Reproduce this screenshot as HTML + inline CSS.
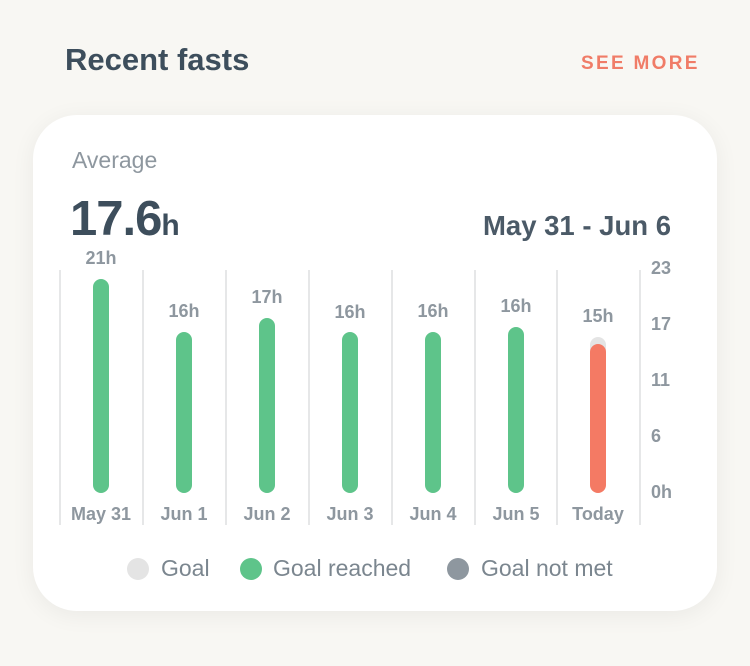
<!DOCTYPE html>
<html><head><style>
body{margin:0;width:750px;height:666px;background:#f8f7f3;font-family:"Liberation Sans",sans-serif;position:relative;overflow:hidden}
.t{position:absolute;white-space:nowrap}
.card{position:absolute;left:33px;top:115px;width:684px;height:496px;background:#fff;border-radius:44px;box-shadow:0 4px 24px rgba(0,0,0,0.06)}
.g{position:absolute;top:270px;width:2px;height:255px;background:#e6e7e8}
.b{position:absolute;width:16px;border-radius:8px;background:#5ec48a}
.v{position:absolute;width:60px;text-align:center;font-size:18px;font-weight:bold;color:#8e979f}
.d{position:absolute;width:80px;text-align:center;font-size:18px;font-weight:bold;color:#8e979f;top:504px}
.y{position:absolute;left:651px;font-size:18px;font-weight:bold;color:#8e979f}
.dot{position:absolute;width:22px;height:22px;border-radius:11px;top:558px}
.l{position:absolute;top:555px;font-size:23px;color:#7b868f}
</style></head><body>
<div class="t" style="left:65px;top:42px;font-size:31px;font-weight:bold;color:#3d4e5c">Recent fasts</div>
<div class="t" style="left:581px;top:53px;font-size:19px;font-weight:bold;color:#f07c67;letter-spacing:2.3px">SEE MORE</div>
<div class="card"></div>
<div class="t" style="left:72px;top:147px;font-size:23px;color:#8e979f">Average</div>
<div class="t" style="left:70px;top:191px;font-size:49px;font-weight:bold;color:#3d4e5c;letter-spacing:-1px">17.6<span style="font-size:30px;letter-spacing:0">h</span></div>
<div class="t" style="left:483px;top:210px;font-size:27.5px;font-weight:bold;color:#4b5a67">May 31 - Jun 6</div>
<div class="g" style="left:59px"></div><div class="g" style="left:142px"></div><div class="g" style="left:225px"></div><div class="g" style="left:308px"></div><div class="g" style="left:391px"></div><div class="g" style="left:474px"></div><div class="g" style="left:556px"></div><div class="g" style="left:639px"></div>
<div class="b" style="left:93px;top:279px;height:214px"></div>
<div class="b" style="left:176px;top:332px;height:161px"></div>
<div class="b" style="left:259px;top:318px;height:175px"></div>
<div class="b" style="left:342px;top:332px;height:161px"></div>
<div class="b" style="left:425px;top:332px;height:161px"></div>
<div class="b" style="left:508px;top:327px;height:166px"></div>
<div class="b" style="left:590px;top:337px;height:20px;background:#e4e4e4"></div>
<div class="b" style="left:590px;top:344px;height:149px;background:#f47a64"></div>
<div class="v" style="left:71px;top:248px">21h</div>
<div class="v" style="left:154px;top:301px">16h</div>
<div class="v" style="left:237px;top:287px">17h</div>
<div class="v" style="left:320px;top:302px">16h</div>
<div class="v" style="left:403px;top:301px">16h</div>
<div class="v" style="left:486px;top:296px">16h</div>
<div class="v" style="left:568px;top:306px">15h</div>
<div class="d" style="left:61px">May 31</div>
<div class="d" style="left:144px">Jun 1</div>
<div class="d" style="left:227px">Jun 2</div>
<div class="d" style="left:310px">Jun 3</div>
<div class="d" style="left:393px">Jun 4</div>
<div class="d" style="left:476px">Jun 5</div>
<div class="d" style="left:558px">Today</div>
<div class="y" style="top:258px">23</div>
<div class="y" style="top:314px">17</div>
<div class="y" style="top:370px">11</div>
<div class="y" style="top:426px">6</div>
<div class="y" style="top:482px">0h</div>
<div class="dot" style="left:127px;background:#e4e4e4"></div><div class="l" style="left:161px">Goal</div>
<div class="dot" style="left:240px;background:#5ec48a"></div><div class="l" style="left:273px">Goal reached</div>
<div class="dot" style="left:447px;background:#8e979f"></div><div class="l" style="left:481px">Goal not met</div>
</body></html>
